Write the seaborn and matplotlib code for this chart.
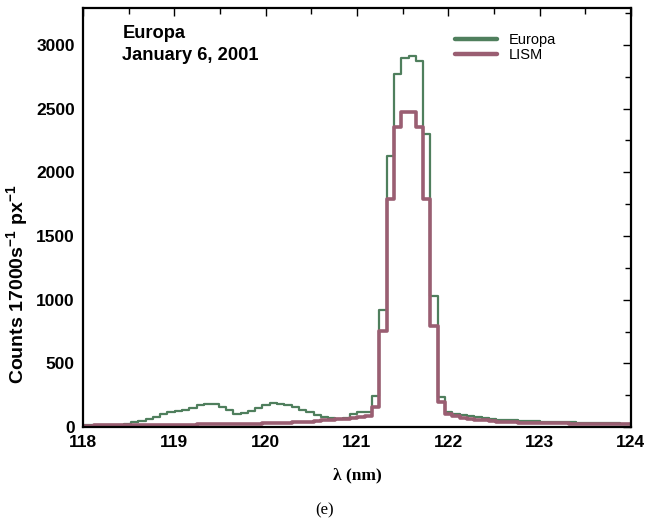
import numpy as np
import pandas as pd
import matplotlib
matplotlib.use("Agg")
import matplotlib.pyplot as plt
from matplotlib.lines import Line2D
from matplotlib.ticker import MultipleLocator
import seaborn as sns

# bin centres (nm), 0.08 nm bins
wavelength = np.round(118.005 + 0.08 * np.arange(76), 3)

europa = [15, 15, 15, 16, 18, 20, 28, 38, 50, 65,
          82, 102, 115, 123, 132, 150, 175, 185, 180, 160,
          132, 105, 108, 125, 150, 175, 188, 183, 170, 155,
          135, 115, 95, 78, 68, 66, 75, 100, 115, 120,
          245, 922, 2125, 2773, 2900, 2914, 2870, 2300, 1030, 240,
          115, 100, 95, 90, 80, 72, 65, 58, 55, 52,
          50, 48, 45, 42, 40, 38, 40, 38, 35, 33,
          32, 31, 30, 29, 28, 28]

lism = [12, 12, 13, 13, 14, 14, 15, 15, 16, 16,
        17, 17, 18, 18, 19, 20, 21, 22, 22, 23,
        24, 25, 26, 27, 28, 29, 31, 33, 35, 38,
        41, 44, 48, 52, 56, 60, 66, 72, 78, 85,
        154, 752, 1790, 2354, 2471, 2471, 2354, 1790, 795, 200,
        100, 85, 75, 66, 58, 52, 47, 43, 40, 38,
        36, 34, 33, 32, 31, 30, 29, 28, 28, 27,
        27, 26, 26, 25, 25, 25]

series_names = ["Europa", "LISM"]
colors = {"Europa": "#4f7f5d", "LISM": "#9a5e72"}
x_ticks = [118, 119, 120, 121, 122, 123, 124]
y_ticks = [0, 500, 1000, 1500, 2000, 2500, 3000]

df = pd.DataFrame({
    "wavelength": np.concatenate([wavelength, wavelength]),
    "counts": europa + lism,
    "series": ["Europa"] * len(europa) + ["LISM"] * len(lism),
})

sns.set_style("white")
plt.rcParams["font.family"] = ["Liberation Sans", "DejaVu Sans"]
plt.rcParams.update({
    "text.color": "black", "axes.labelcolor": "black",
    "xtick.color": "black", "ytick.color": "black",
    "mathtext.fontset": "custom",
    "mathtext.rm": "Liberation Sans",
    "mathtext.bf": "Liberation Sans:bold",
    "mathtext.it": "Liberation Sans:italic",
})

fig = plt.figure(figsize=(6.46, 5.26), dpi=100)
ax = fig.add_axes([0.1285, 0.188, 0.848, 0.797])

sns.lineplot(data=df[df.series == "Europa"], x="wavelength", y="counts",
             color=colors["Europa"], lw=1.6, drawstyle="steps-mid", ax=ax,
             legend=False)
sns.lineplot(data=df[df.series == "LISM"], x="wavelength", y="counts",
             color=colors["LISM"], lw=2.6, drawstyle="steps-mid", ax=ax,
             legend=False)

ax.set_xlim(118, 124)
ax.set_ylim(0, 3290)
ax.set_xticks(x_ticks)
ax.set_yticks(y_ticks)
ax.xaxis.set_minor_locator(MultipleLocator(0.5))
ax.yaxis.set_minor_locator(MultipleLocator(250))
ax.tick_params(which="both", direction="in", top=True, right=True,
               width=1.0, color="black")
ax.tick_params(which="major", length=6, labelsize=12.5, pad=6)
ax.tick_params(which="minor", length=4)
for lab in ax.get_xticklabels() + ax.get_yticklabels():
    lab.set_fontweight("bold")
for sp in ax.spines.values():
    sp.set_linewidth(1.6)
    sp.set_color("black")

ax.set_xlabel("λ (nm)", fontsize=12.5, fontweight="bold",
              family=["Liberation Serif", "DejaVu Serif"], labelpad=12)
ax.set_ylabel("Counts 17000s$^{\\mathbf{-1}}$ px$^{\\mathbf{-1}}$",
              fontsize=14, fontweight="bold")
ax.yaxis.set_label_coords(-0.096, 0.34)

ax.text(0.072, 0.96, "Europa\nJanuary 6, 2001", transform=ax.transAxes,
        fontsize=13.2, fontweight="bold", va="top", ha="left", linespacing=1.4)

handles = [Line2D([], [], color=colors[n], lw=3.2) for n in series_names]
leg = ax.legend(handles, series_names, loc="upper left",
                bbox_to_anchor=(0.655, 0.972), frameon=False, fontsize=10.5,
                handlelength=2.9, handletextpad=0.8, labelspacing=0.1)

fig.text(0.503, 0.03, "(e)", fontsize=12,
         family=["Liberation Serif", "DejaVu Serif"], ha="center", va="center")

fig.savefig("out.png", dpi=100)
